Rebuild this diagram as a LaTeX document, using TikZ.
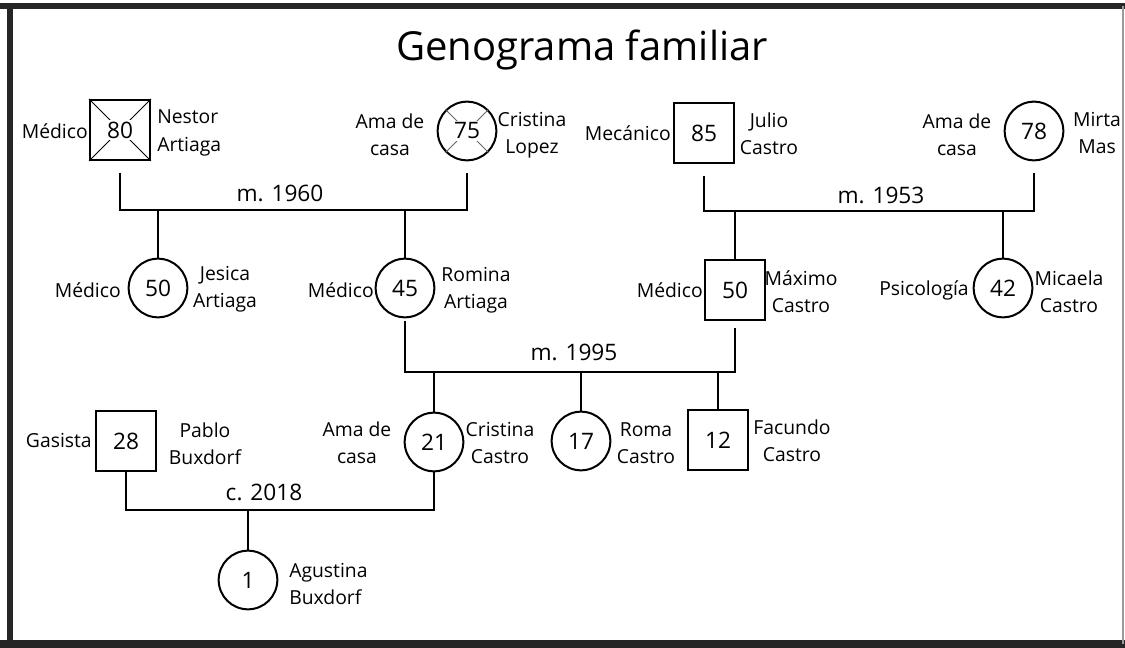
\documentclass[tikz,border=0pt]{standalone}
\usepackage{fontspec}
\setmainfont{Open Sans}
\begin{document}
\begin{tikzpicture}[x=0.75pt,y=-0.75pt,
  person/.style={draw=black, line width=1.5pt, inner sep=0pt},
  male/.style={person, rectangle, minimum size=45pt},
  female/.style={person, circle, minimum size=44pt},
  age/.style={font=\fontsize{17}{20}\selectfont, inner sep=1.5pt, fill=white},
  lbl/.style={font=\fontsize{14.5}{20.5}\selectfont, align=center, inner sep=0pt},
  rel/.style={line width=2.2pt},
  yr/.style={font=\fontsize{17}{20}\selectfont, inner sep=0pt},
  deceased/.style={line width=0.6pt},
  frame/.style={color=black!85}]
\useasboundingbox (0,0) rectangle (1125,648);
% frame
\draw[frame, line width=4.5pt] (10,4) -- (10,648);
\draw[frame, line width=4pt] (0,6) -- (1125,6);
\draw[frame, line width=6pt] (0,644) -- (1125,644);
\draw[black!40, line width=0.8pt] (1123,6) -- (1123,644);
% title
\node[font=\fontsize{30}{34}\selectfont] (title) at (582,50) {Genograma familiar};
% generation 1
\node[male] (nestor) at (120,130) {};
\draw[deceased] (nestor.north west) -- (nestor.south east) (nestor.north east) -- (nestor.south west);
\node[age] (nestorage) at (nestor.center) {80};
\node[lbl, anchor=east] (nestorjob) at (88,131) {Médico};
\node[lbl, anchor=west, align=left] (nestorname) at (157,133) {Nestor\\Artiaga};

\node[female] (lopez) at (467,131) {};
\draw[deceased, black!60] (lopez.north west) -- (lopez.south east) (lopez.north east) -- (lopez.south west);
\node[age] (lopezage) at (lopez.center) {75};
\node[lbl] (lopezjob) at (390,135) {Ama de\\casa};
\node[lbl] (lopezname) at (532,135) {Cristina\\Lopez};

\node[male] (julio) at (704,133) {};
\node[age] (julioage) at (julio.center) {85};
\node[lbl, anchor=east] (juliojob) at (671,133) {Mecánico};
\node[lbl] (julioname) at (769,134) {Julio\\Castro};

\node[female] (mirta) at (1034,131) {};
\node[age] (mirtaage) at (mirta.center) {78};
\node[lbl] (mirtajob) at (957,135) {Ama de\\casa};
\node[lbl] (mirtaname) at (1097,133) {Mirta\\Mas};

% generation 2
\node[female] (jesica) at (158,288) {};
\node[age] (jesicaage) at (jesica.center) {50};
\node[lbl, anchor=east] (jesicajob) at (121,290) {Médico};
\node[lbl] (jesicaname) at (225,289) {Jesica\\Artiaga};

\node[female] (romina) at (405,288) {};
\node[age] (rominaage) at (romina.center) {45};
\node[lbl, anchor=east] (rominajob) at (374,290) {Médico};
\node[lbl] (rominaname) at (476,290) {Romina\\Artiaga};

\node[male] (maximo) at (735,290) {};
\node[age] (maximoage) at (maximo.center) {50};
\node[lbl, anchor=east] (maximojob) at (703,290) {Médico};
\node[lbl] (maximoname) at (801,292) {Máximo\\Castro};

\node[female] (micaela) at (1003,288) {};
\node[age] (micaelaage) at (micaela.center) {42};
\node[lbl, anchor=east] (micaelajob) at (969,290) {Psicología};
\node[lbl] (micaelaname) at (1069,292) {Micaela\\Castro};

% generation 3
\node[male] (pablo) at (126,441) {};
\node[age] (pabloage) at (pablo.center) {28};
\node[lbl, anchor=east] (pablojob) at (92,441) {Gasista};
\node[lbl] (pabloname) at (205,444) {Pablo\\Buxdorf};

\node[female] (ccastro) at (434,442) {};
\node[age] (ccastroage) at (ccastro.center) {21};
\node[lbl] (ccastrojob) at (357,443) {Ama de\\casa};
\node[lbl] (ccastroname) at (500,443) {Cristina\\Castro};

\node[female] (roma) at (581,441) {};
\node[age] (romaage) at (roma.center) {17};
\node[lbl] (romaname) at (646,443) {Roma\\Castro};

\node[male] (facundo) at (718,440) {};
\node[age] (facundoage) at (facundo.center) {12};
\node[lbl] (facundoname) at (792,441) {Facundo\\Castro};

% generation 4
\node[female] (agustina) at (248,580) {};
\node[age] (agustinaage) at (agustina.center) {1};
\node[lbl, align=left, anchor=west] (agustinaname) at (289,584) {Agustina\\Buxdorf};

% relationships
\coordinate (m1) at (280,210);
\coordinate (m2) at (880,211);
\coordinate (m3) at (575,372);
\coordinate (m4) at (264,510);
\draw[rel, shorten <=9pt, shorten >=9pt] (nestor.south) |- (m1) -| (lopez.south);
\draw[rel, shorten <=9pt, shorten >=9pt] (julio.south) |- (m2) -| (mirta.south);
\draw[rel, shorten <=2pt, shorten >=5pt] (romina.south) |- (m3) -| (maximo.south);
\draw[rel] (pablo.south) |- (m4) -| (ccastro.south);
\draw[rel] (jesica.north) -- (jesica.north |- m1);
\draw[rel] (romina.north) -- (romina.north |- m1);
\draw[rel] (maximo.north) -- (maximo.north |- m2);
\draw[rel] (micaela.north) -- (micaela.north |- m2);
\draw[rel] (ccastro.north) -- (ccastro.north |- m3);
\draw[rel] (roma.north) -- (roma.north |- m3);
\draw[rel] (facundo.north) -- (facundo.north |- m3);
\draw[rel] (agustina.north) -- (agustina.north |- m4);
% year labels
\node[yr] (y1960) at (280,193) {m. 1960};
\node[yr] (y1953) at (881,195) {m. 1953};
\node[yr] (y1995) at (574,352) {m. 1995};
\node[yr] (y2018) at (264,492) {c. 2018};
\end{tikzpicture}
\end{document}
